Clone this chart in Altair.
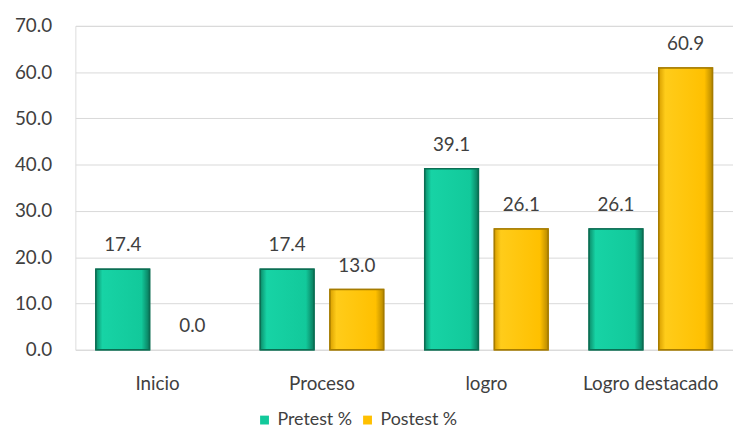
import altair as alt
import pandas as pd

categories = ["Inicio", "Proceso", "logro", "Logro destacado"]
pretest = [17.4, 17.4, 39.1, 26.1]
postest = [0.0, 13.0, 26.1, 60.9]
series = ["Pretest %", "Postest %"]
colors = ["#12C99B", "#FFC000"]
strokes = ["#0B6E53", "#A67C00"]

rows = []
for c, a, b in zip(categories, pretest, postest):
    rows.append({"cat": c, "serie": series[0], "val": a})
    rows.append({"cat": c, "serie": series[1], "val": b})
df = pd.DataFrame(rows)

FONT = "Lato"
FS = 19
TXT = "#404040"

x = alt.X("cat:N", sort=categories, title=None,
          scale=alt.Scale(paddingInner=0.25, paddingOuter=0.125),
          axis=alt.Axis(labelAngle=0, labelFontSize=FS, labelColor=TXT,
                        labelFont=FONT, ticks=False, domain=False, labelPadding=25))
xo = alt.XOffset("serie:N", sort=series,
                 scale=alt.Scale(domain=series, paddingInner=0.23, paddingOuter=0))
y = alt.Y("val:Q", title=None,
          scale=alt.Scale(domain=[0, 70]),
          axis=alt.Axis(values=[0, 10, 20, 30, 40, 50, 60, 70], format=".1f",
                        labelFontSize=FS, labelColor=TXT, labelFont=FONT,
                        ticks=False, domain=False, labelPadding=24,
                        gridColor="#D9D9D9", gridWidth=1))

base = alt.Chart(df).encode(x=x, xOffset=xo, y=y)

bars = base.transform_filter("datum.val > 0").mark_bar(strokeWidth=1.5).encode(
    color=alt.Color("serie:N", sort=series, title=None,
                    scale=alt.Scale(domain=series, range=colors),
                    legend=alt.Legend(orient="none", legendX=182, legendY=389,
                                      direction="horizontal", symbolType="square",
                                      symbolSize=80, labelFontSize=18,
                                      labelFont=FONT, labelColor=TXT,
                                      columnPadding=6, symbolStrokeWidth=0,
                                      labelOffset=4)),
    stroke=alt.Stroke("serie:N", sort=series,
                      scale=alt.Scale(domain=series, range=strokes), legend=None),
)

green_grad = alt.Gradient(gradient="linear", x1=0, x2=1, y1=0, y2=0, stops=[
    alt.GradientStop(color="#0C8E6B", offset=0),
    alt.GradientStop(color="#17D3A5", offset=0.12),
    alt.GradientStop(color="#12C99B", offset=0.85),
    alt.GradientStop(color="#0A7A5C", offset=1),
])
yellow_grad = alt.Gradient(gradient="linear", x1=0, x2=1, y1=0, y2=0, stops=[
    alt.GradientStop(color="#D9A000", offset=0),
    alt.GradientStop(color="#FFCC1A", offset=0.12),
    alt.GradientStop(color="#FFC000", offset=0.85),
    alt.GradientStop(color="#B88A00", offset=1),
])

g_layer = base.transform_filter(
    f"datum.val > 0 && datum.serie == '{series[0]}'").mark_bar(
    color=green_grad, stroke="#0B6E53", strokeWidth=1.5)
y_layer = base.transform_filter(
    f"datum.val > 0 && datum.serie == '{series[1]}'").mark_bar(
    color=yellow_grad, stroke="#A67C00", strokeWidth=1.5)

text = base.mark_text(baseline="middle", dy=-24, fontSize=FS, font=FONT,
                      color=TXT).encode(text=alt.Text("val:Q", format=".1f"))

chart = alt.layer(bars, g_layer, y_layer, text).properties(
    width=664, height=327,
    autosize=alt.AutoSizeParams(type="none"),
    padding={"left": 68, "top": 16, "right": 0, "bottom": 80},
).configure_view(stroke=None).configure(background="white")

chart.save("out.html", embed_options={"renderer": "svg", "actions": False})
